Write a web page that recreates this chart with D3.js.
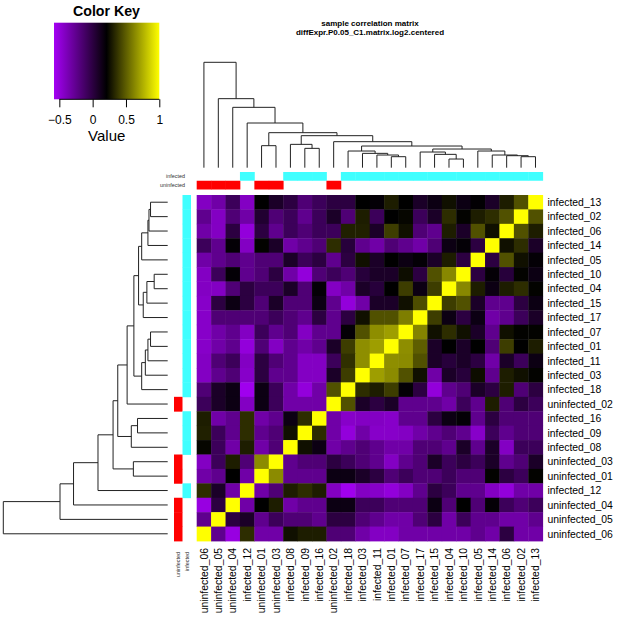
<!DOCTYPE html>
<html>
<head>
<meta charset="utf-8">
<script src="https://cdn.jsdelivr.net/npm/d3@7"></script>
<style>
  body { margin: 0; background: #fff; }
  svg { display: block; font-family: 'Liberation Sans', Arial, sans-serif; }
</style>
</head>
<body>
<div id="chart"></div>
<script>
// samples as they appear from top to bottom in the rows
const rowLabels = [
  'infected_13', 'infected_02', 'infected_06', 'infected_14', 'infected_05', 'infected_10',
  'infected_04', 'infected_15', 'infected_17', 'infected_07', 'infected_01', 'infected_11',
  'infected_03', 'infected_18', 'uninfected_02', 'infected_16', 'infected_09', 'infected_08',
  'uninfected_03', 'uninfected_01', 'infected_12', 'uninfected_04', 'uninfected_05', 'uninfected_06'
]

// columns run in the opposite order
const colLabels = rowLabels.slice().reverse()

// correlation values, one array per row (top to bottom), columns left to right
const values = [
  [-0.42, -0.33, -0.08, -0.42, 0.21, 0.08, 0.0, -0.17, -0.08, 0.0, 0.0, 0.21, 0.19, 0.3, 0.21, 0.08, 0.15, 0.26, 0.15, 0.2, 0.08, 0.3, 0.46, 1],
  [-0.25, -0.42, -0.17, -0.33, 0.05, -0.17, -0.08, -0.25, -0.08, 0.08, -0.17, 0.3, -0.08, 0.21, 0.23, -0.08, 0.08, 0.35, 0.22, 0.3, 0.35, 0.46, 1, 0.46],
  [-0.33, -0.42, 0.0, -0.5, 0.0, -0.25, -0.08, -0.17, -0.08, -0.08, 0.31, 0.31, 0.08, 0.4, 0.26, -0.17, -0.25, 0.3, 0.08, 0.46, 0.26, 1, 0.46, 0.3],
  [-0.08, -0.25, 0.19, -0.42, 0.22, 0.08, -0.33, -0.25, -0.17, 0.35, 0.02, -0.25, -0.33, -0.17, -0.25, -0.33, -0.17, 0.15, 0.19, 0.0, 1, 0.26, 0.35, 0.08],
  [-0.33, -0.25, -0.17, -0.25, -0.17, -0.17, 0.08, -0.08, 0.0, -0.25, 0.0, 0.26, 0.08, 0.21, 0.15, 0.19, 0.08, 0.3, 0.0, 1, 0.0, 0.46, 0.26, 0.19],
  [-0.42, -0.08, 0.19, -0.25, -0.17, 0.0, -0.33, -0.5, -0.17, -0.08, -0.17, 0.02, 0.08, 0.08, 0.25, 0.0, 0.46, 0.63, 1, 0.0, 0.19, 0.02, 0.22, 0.15],
  [-0.42, -0.42, -0.17, 0.0, -0.08, -0.08, 0.08, -0.17, 0.19, -0.42, -0.33, 0.08, 0.02, 0.21, 0.4, 0.15, 0.4, 1, 0.63, 0.3, 0.15, 0.3, 0.35, 0.22],
  [-0.44, 0.0, 0.15, 0.0, -0.17, 0.08, -0.17, -0.17, 0.15, -0.25, -0.5, -0.33, 0.08, 0.08, 0.26, 0.45, 1, 0.4, 0.46, 0.08, -0.25, -0.25, 0.0, 0.15],
  [-0.44, -0.17, -0.17, -0.17, -0.17, -0.08, -0.17, -0.25, 0.0, -0.25, 0.0, 0.26, 0.46, 0.46, 0.6, 1, 0.4, 0.15, 0.0, 0.15, -0.33, -0.25, -0.08, 0.08],
  [-0.44, -0.33, -0.25, -0.42, -0.08, -0.25, -0.17, -0.42, -0.25, -0.25, 0.19, 0.46, 0.65, 0.7, 1, 0.62, 0.26, 0.35, 0.26, 0.08, -0.25, 0.26, 0.22, 0.22],
  [-0.44, -0.33, -0.25, -0.5, -0.17, -0.42, -0.25, -0.33, -0.25, 0.08, 0.4, 0.65, 0.7, 1, 0.65, 0.5, 0.08, 0.21, 0.08, 0.21, -0.17, 0.4, 0.21, 0.3],
  [-0.42, -0.17, -0.08, -0.42, 0.0, -0.17, -0.25, -0.42, -0.42, -0.08, 0.36, 0.65, 1, 0.65, 0.64, 0.46, 0.08, 0.02, 0.08, 0.0, -0.33, 0.08, -0.08, 0.15],
  [-0.42, -0.25, -0.17, -0.44, 0.0, -0.25, -0.25, -0.42, -0.42, 0.08, 0.4, 1, 0.7, 0.64, 0.46, 0.26, -0.33, 0.08, 0.02, 0.25, -0.25, 0.3, 0.26, 0.22],
  [-0.17, 0.08, 0.15, -0.56, 0.15, -0.08, -0.33, -0.5, -0.33, 0.46, 1, 0.35, 0.3, 0.4, 0.19, 0.0, -0.5, -0.25, -0.17, 0.08, 0.0, 0.3, -0.17, 0.0],
  [-0.08, 0.08, 0.15, -0.42, 0.15, -0.08, -0.33, -0.33, -0.33, 1, 0.46, 0.08, 0.0, 0.08, -0.25, -0.25, -0.25, -0.33, -0.08, -0.25, 0.3, -0.17, 0.0, -0.08],
  [0.3, -0.33, -0.25, 0.35, -0.33, -0.25, 0.15, 0.35, 1, -0.33, -0.44, -0.42, -0.42, -0.44, -0.25, -0.25, 0.0, 0.15, 0.19, -0.25, 0.0, -0.17, -0.17, -0.17],
  [0.31, -0.08, -0.25, 0.35, -0.25, -0.17, 0.26, 1, 0.35, -0.33, -0.5, -0.33, -0.44, -0.44, -0.42, -0.33, -0.25, -0.17, -0.25, -0.44, -0.08, -0.25, -0.17, -0.17],
  [0.23, -0.08, -0.33, 0.3, -0.33, -0.17, 1, 0.26, 0.15, -0.33, -0.25, -0.17, -0.25, -0.33, -0.33, -0.17, -0.17, -0.25, 0.08, -0.25, 0.08, -0.42, -0.08, -0.08],
  [-0.42, -0.08, 0.3, -0.17, 0.64, 1, -0.25, -0.17, -0.17, 0.0, -0.08, -0.17, -0.25, -0.42, -0.25, -0.17, 0.08, -0.08, 0.0, -0.08, 0.08, -0.25, -0.17, 0.08],
  [-0.33, -0.25, 0.21, -0.33, 1, 0.64, -0.25, -0.25, -0.25, 0.15, 0.15, 0.08, 0.0, -0.17, -0.08, -0.17, -0.17, -0.08, -0.17, -0.17, 0.22, 0.0, -0.08, 0.22],
  [0.35, 0.08, -0.33, 1, -0.33, -0.17, 0.3, 0.35, 0.3, -0.42, -0.56, -0.42, -0.44, -0.5, -0.42, -0.25, 0.0, -0.08, -0.25, -0.25, -0.42, -0.5, -0.33, -0.33],
  [-0.52, 0.0, 1, -0.33, 0.21, 0.3, -0.33, -0.25, -0.25, 0.15, 0.15, -0.08, -0.08, -0.17, -0.17, -0.17, 0.15, -0.17, 0.21, -0.17, 0.19, -0.08, -0.17, -0.08],
  [-0.25, 1, 0.0, 0.08, -0.25, -0.08, -0.17, -0.17, -0.25, 0.0, 0.0, -0.17, -0.25, -0.33, -0.33, -0.17, 0.0, -0.33, -0.08, -0.25, -0.25, -0.33, -0.33, -0.25],
  [1, -0.25, -0.52, 0.35, -0.33, -0.33, 0.26, 0.3, 0.3, -0.17, -0.17, -0.33, -0.42, -0.42, -0.33, -0.33, -0.33, -0.33, -0.33, -0.25, -0.33, 0.0, -0.33, -0.33]
]

// clustering, hclust style: a string is a sample, a number is an earlier merge (1-based)
const merges = [
  ['infected_02', 'infected_13', 0.165],
  ['infected_06', 1, 0.18],
  ['infected_14', 2, 0.19],
  ['infected_05', 3, 0.25],
  ['infected_04', 'infected_10', 0.13],
  ['infected_15', 5, 0.2],
  ['infected_17', 6, 0.235],
  [7, 4, 0.28],
  ['infected_01', 'infected_07', 0.165],
  ['infected_11', 9, 0.19],
  ['infected_03', 10, 0.215],
  ['infected_18', 11, 0.25],
  [12, 8, 0.325],
  ['uninfected_02', 13, 0.39],
  ['infected_09', 'infected_16', 0.29],
  ['infected_08', 15, 0.35],
  [16, 14, 0.48],
  ['uninfected_01', 'uninfected_03', 0.33],
  [18, 17, 0.525],
  ['infected_12', 19, 0.67],
  ['uninfected_04', 20, 0.905],
  ['uninfected_05', 21, 1.035],
  ['uninfected_06', 22, 1.58]
]

const groupNames = ['infected', 'uninfected']
const groupColors = ['#40ffff', '#ff0000']

const keyRange = [-0.58, 0.21, 1]
const keyTicks = [-0.5, 0, 0.5, 1]

const titleLines = ['sample correlation matrix', 'diffExpr.P0.05_C1.matrix.log2.centered']

function groupOf (name) {
  return name.indexOf('uninfected') === 0 ? 'uninfected' : 'infected'
}

let width = 621
let height = 630

let svg = d3.select('#chart').append('svg')
  .attr('width', width)
  .attr('height', height)

let x = d3.scaleBand().domain(colLabels).range([196.7, 542.7])
let y = d3.scaleBand().domain(rowLabels).range([195, 541])

let color = d3.scaleLinear()
  .domain(keyRange)
  .range(['#a400f4', '#000000', '#ffff00'])

let groupColor = d3.scaleOrdinal().domain(groupNames).range(groupColors)

// heatmap cells
let cells = []
values.forEach(function (row, i) {
  row.forEach(function (v, j) {
    cells.push({ r: rowLabels[i], c: colLabels[j], v: v })
  })
})

svg.append('g').attr('class', 'cells')
  .selectAll('rect')
  .data(cells)
  .join('rect')
  .attr('x', function (d) { return x(d.c) })
  .attr('y', function (d) { return y(d.r) })
  .attr('width', x.bandwidth() + 0.4)
  .attr('height', y.bandwidth() + 0.4)
  .attr('fill', function (d) { return color(d.v) })

// dendrograms
function layout (pos) {
  let nodes = []
  function child (k) {
    return typeof k === 'string' ? { p: pos(k), h: 0 } : nodes[k - 1]
  }
  merges.forEach(function (m) {
    let a = child(m[0])
    let b = child(m[1])
    nodes.push({ a: a, b: b, h: m[2], p: (a.p + b.p) / 2 })
  })
  return nodes
}

let colH = d3.scaleLinear().domain([0, 1.58]).range([167.7, 62.3])
let rowH = d3.scaleLinear().domain([0, 1.58]).range([167.7, 3.3])

let colNodes = layout(function (k) { return x(k) + x.bandwidth() / 2 })
let rowNodes = layout(function (k) { return y(k) + y.bandwidth() / 2 })

svg.append('g').attr('class', 'col-dendro')
  .selectAll('path')
  .data(colNodes)
  .join('path')
  .attr('d', function (n) {
    return 'M' + n.a.p + ',' + colH(n.a.h) + 'V' + colH(n.h) + 'H' + n.b.p + 'V' + colH(n.b.h)
  })
  .attr('fill', 'none')
  .attr('stroke', '#222')
  .attr('stroke-width', 1)

svg.append('g').attr('class', 'row-dendro')
  .selectAll('path')
  .data(rowNodes)
  .join('path')
  .attr('d', function (n) {
    return 'M' + rowH(n.a.h) + ',' + n.a.p + 'H' + rowH(n.h) + 'V' + n.b.p + 'H' + rowH(n.b.h)
  })
  .attr('fill', 'none')
  .attr('stroke', '#222')
  .attr('stroke-width', 1)

// side colour bars
let colBand = d3.scaleBand().domain(groupNames).range([172, 189.5])
let rowBand = d3.scaleBand().domain(groupNames.slice().reverse()).range([174, 191])

svg.append('g').attr('class', 'col-side')
  .selectAll('rect')
  .data(colLabels)
  .join('rect')
  .attr('x', function (d) { return x(d) })
  .attr('y', function (d) { return colBand(groupOf(d)) })
  .attr('width', x.bandwidth() + 0.4)
  .attr('height', colBand.bandwidth())
  .attr('fill', function (d) { return groupColor(groupOf(d)) })

svg.append('g').attr('class', 'row-side')
  .selectAll('rect')
  .data(rowLabels)
  .join('rect')
  .attr('x', function (d) { return rowBand(groupOf(d)) })
  .attr('y', function (d) { return y(d) })
  .attr('width', rowBand.bandwidth())
  .attr('height', y.bandwidth() + 0.4)
  .attr('fill', function (d) { return groupColor(groupOf(d)) })

svg.append('g')
  .selectAll('text')
  .data(groupNames)
  .join('text')
  .attr('x', 185)
  .attr('y', function (d) { return colBand(d) + colBand.bandwidth() / 2 + 2 })
  .attr('text-anchor', 'end')
  .attr('font-size', 5.4)
  .attr('fill', '#333')
  .text(function (d) { return d })

svg.append('g')
  .selectAll('text')
  .data(groupNames)
  .join('text')
  .attr('transform', function (d) {
    return 'translate(' + (rowBand(d) + rowBand.bandwidth() / 2 + 2) + ',552) rotate(-90)'
  })
  .attr('text-anchor', 'end')
  .attr('font-size', 5.4)
  .attr('fill', '#333')
  .text(function (d) { return d })

// labels
svg.append('g').attr('class', 'row-labels')
  .selectAll('text')
  .data(rowLabels)
  .join('text')
  .attr('x', 547.5)
  .attr('y', function (d) { return y(d) + y.bandwidth() / 2 })
  .attr('dy', '0.36em')
  .attr('font-size', 10.4)
  .text(function (d) { return d })

svg.append('g').attr('class', 'col-labels')
  .selectAll('text')
  .data(colLabels)
  .join('text')
  .attr('transform', function (d) {
    return 'translate(' + (x(d) + x.bandwidth() / 2) + ',548) rotate(-90)'
  })
  .attr('text-anchor', 'end')
  .attr('dy', '0.36em')
  .attr('font-size', 10.4)
  .text(function (d) { return d })

// title
svg.append('g')
  .selectAll('text')
  .data(titleLines)
  .join('text')
  .attr('x', 370)
  .attr('y', function (d, i) { return 25.5 + i * 9 })
  .attr('text-anchor', 'middle')
  .attr('font-size', 8)
  .attr('font-weight', 'bold')
  .text(function (d) { return d })

// colour key
let kx = d3.scaleLinear().domain([keyRange[0], keyRange[2]]).range([54, 159.3])

let grad = svg.append('defs').append('linearGradient')
  .attr('id', 'keyGrad')
  .attr('x1', '0%').attr('x2', '100%')
  .attr('y1', '0%').attr('y2', '0%')

grad.selectAll('stop')
  .data(keyRange)
  .join('stop')
  .attr('offset', function (d) { return (d - keyRange[0]) / (keyRange[2] - keyRange[0]) })
  .attr('stop-color', function (d) { return color(d) })

let key = svg.append('g').attr('class', 'key')

key.append('rect')
  .attr('x', kx(keyRange[0]))
  .attr('y', 22.7)
  .attr('width', kx(keyRange[2]) - kx(keyRange[0]))
  .attr('height', 76.6)
  .attr('fill', 'url(#keyGrad)')

let keyAxis = key.append('g')
  .attr('transform', 'translate(0,99.3)')
  .call(d3.axisBottom(kx).tickValues(keyTicks).tickSize(8).tickPadding(8.5).tickFormat(d3.format('')))

keyAxis.select('.domain').remove()
keyAxis.append('line')
  .attr('x1', kx(keyTicks[0]))
  .attr('x2', kx(keyTicks[keyTicks.length - 1]))
  .attr('stroke', '#000')
keyAxis.selectAll('text')
  .attr('font-size', 12)
  .attr('font-family', 'Liberation Sans, Arial, sans-serif')
  .attr('fill', '#000')

key.append('text')
  .attr('x', 106.5)
  .attr('y', 16)
  .attr('text-anchor', 'middle')
  .attr('font-size', 14.2)
  .attr('font-weight', 'bold')
  .text('Color Key')

key.append('text')
  .attr('x', 106.7)
  .attr('y', 140.8)
  .attr('text-anchor', 'middle')
  .attr('font-size', 15)
  .text('Value')
</script>
</body>
</html>
